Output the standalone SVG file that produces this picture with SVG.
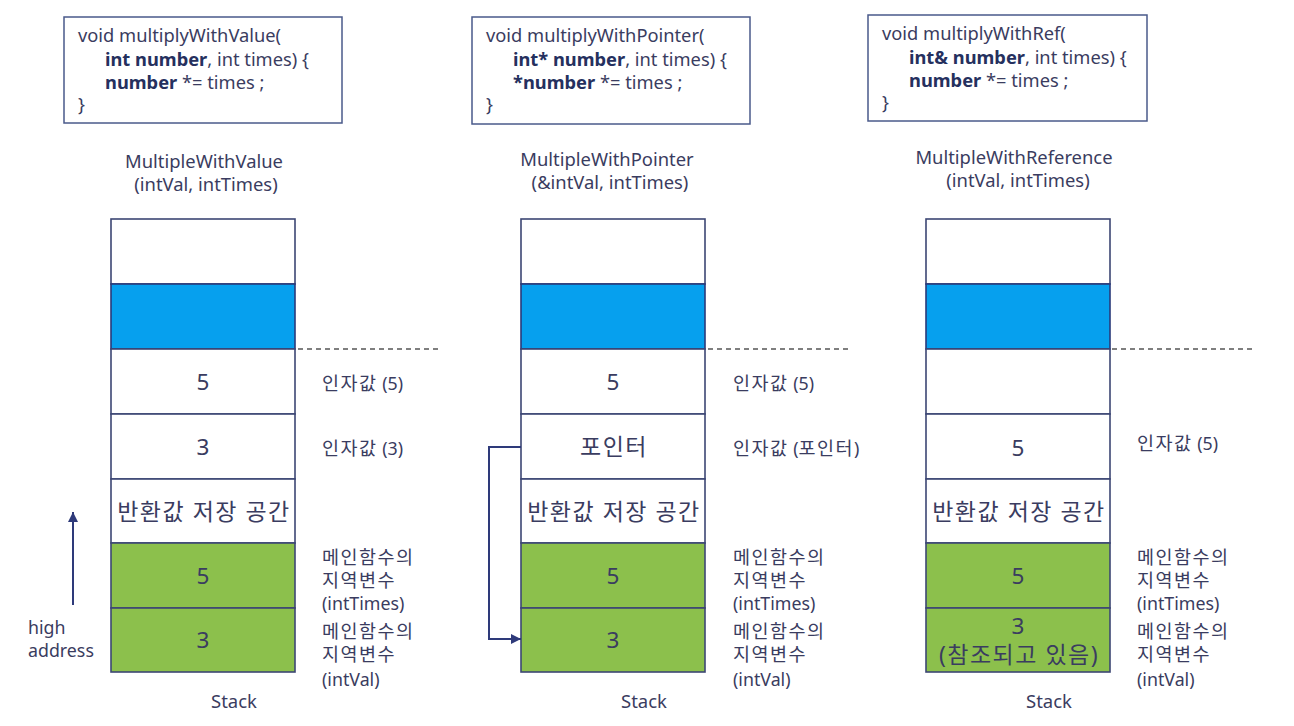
<svg xmlns="http://www.w3.org/2000/svg" width="1294" height="726" viewBox="0 0 1294 726">
<defs>
<style>
.t{font-family:"Noto Sans","Noto Sans CJK KR",sans-serif;fill:#3a3c60;}
.code{font-size:18.3px;}
.b{font-weight:bold;fill:#25305e;}
.title{font-size:18.4px;text-anchor:middle;}
.cell{font-size:22.5px;text-anchor:middle;}
.kc{font-size:23px;letter-spacing:1.5px;}
.lbl{font-size:17.8px;}
.st{font-size:18.5px;text-anchor:middle;}
.k{font-size:18.5px;letter-spacing:1.5px;}
.box{fill:#ffffff;stroke:#4a5a8a;stroke-width:1.5;}
.w{fill:#ffffff;stroke:#3c4674;stroke-width:1.6;}
.bl{fill:#06a0ee;stroke:#2a3a7a;stroke-width:1.6;}
.g{fill:#8cc04c;stroke:#3c4674;stroke-width:1.6;}
.dash{stroke:#555;stroke-width:1.3;stroke-dasharray:5 4;fill:none;}
.conn{stroke:#2e3a7a;stroke-width:2;fill:none;}
</style>
<marker id="ah" viewBox="0 0 10 10" refX="10" refY="5" markerWidth="5" markerHeight="5" orient="auto" markerUnits="strokeWidth">
<path d="M0,0 L10,5 L0,10 z" fill="#2e3a7a"/>
</marker>
</defs>
<rect width="1294" height="726" fill="#ffffff"/>

<g id="code1">
<rect class="box" x="64" y="17" width="278" height="106"/>
<text class="t code" x="78" y="42">void multiplyWithValue(</text>
<text class="t code" x="105" y="66"><tspan class="b">int number</tspan>, int times) {</text>
<text class="t code" x="105" y="89"><tspan class="b">number</tspan> *= times ;</text>
<text class="t code" x="78" y="111">}</text>
</g>
<g id="code2">
<rect class="box" x="472" y="17" width="278" height="107"/>
<text class="t code" x="486" y="42">void multiplyWithPointer(</text>
<text class="t code" x="513" y="66"><tspan class="b">int* number</tspan>, int times) {</text>
<text class="t code" x="513" y="89"><tspan class="b">*number</tspan> *= times ;</text>
<text class="t code" x="486" y="111">}</text>
</g>
<g id="code3">
<rect class="box" x="868" y="15" width="279" height="106"/>
<text class="t code" x="882" y="40">void multiplyWithRef(</text>
<text class="t code" x="909" y="64"><tspan class="b">int&amp; number</tspan>, int times) {</text>
<text class="t code" x="909" y="87"><tspan class="b">number</tspan> *= times ;</text>
<text class="t code" x="882" y="109">}</text>
</g>

<g id="title1">
<text class="t title" x="204" y="168">MultipleWithValue</text>
<text class="t title" x="206" y="191">(intVal, intTimes)</text>
</g>
<g id="title2">
<text class="t title" x="607" y="166">MultipleWithPointer</text>
<text class="t title" x="610" y="189">(&amp;intVal, intTimes)</text>
</g>
<g id="title3">
<text class="t title" x="1014" y="164">MultipleWithReference</text>
<text class="t title" x="1018" y="187">(intVal, intTimes)</text>
</g>

<g id="stack1">
<rect class="w" x="111" y="219" width="184" height="65"/>
<rect class="bl" x="111" y="284" width="184" height="65"/>
<rect class="w" x="111" y="349" width="184" height="65"/>
<rect class="w" x="111" y="414" width="184" height="65"/>
<rect class="w" x="111" y="479" width="184" height="64"/>
<rect class="g" x="111" y="543" width="184" height="65"/>
<rect class="g" x="111" y="608" width="184" height="64"/>
<text class="t cell" x="203" y="390">5</text>
<text class="t cell" x="203" y="455">3</text>
<text class="t cell kc" x="204" y="520">반환값 저장 공간</text>
<text class="t cell" x="203" y="584">5</text>
<text class="t cell" x="203" y="648">3</text>
<line class="dash" x1="298" y1="349" x2="440" y2="349"/>
<text class="t lbl" x="322" y="390"><tspan class="k">인자값</tspan> (5)</text>
<text class="t lbl" x="322" y="455"><tspan class="k">인자값</tspan> (3)</text>
<text class="t k" x="322" y="564">메인함수의</text>
<text class="t k" x="322" y="587">지역변수</text>
<text class="t lbl" x="322" y="610">(intTimes)</text>
<text class="t k" x="322" y="638">메인함수의</text>
<text class="t k" x="322" y="661">지역변수</text>
<text class="t lbl" x="322" y="686">(intVal)</text>
<text class="t st" x="234" y="708">Stack</text>
</g>

<g id="stack2">
<rect class="w" x="521" y="219" width="184" height="65"/>
<rect class="bl" x="521" y="284" width="184" height="65"/>
<rect class="w" x="521" y="349" width="184" height="65"/>
<rect class="w" x="521" y="414" width="184" height="65"/>
<rect class="w" x="521" y="479" width="184" height="64"/>
<rect class="g" x="521" y="543" width="184" height="65"/>
<rect class="g" x="521" y="608" width="184" height="64"/>
<text class="t cell" x="613" y="390">5</text>
<text class="t cell kc" x="614" y="455">포인터</text>
<text class="t cell kc" x="614" y="520">반환값 저장 공간</text>
<text class="t cell" x="613" y="584">5</text>
<text class="t cell" x="613" y="648">3</text>
<line class="dash" x1="708" y1="349" x2="850" y2="349"/>
<text class="t lbl" x="733" y="390"><tspan class="k">인자값</tspan> (5)</text>
<text class="t lbl" x="733" y="455"><tspan class="k">인자값</tspan> (<tspan class="k">포인터</tspan>)</text>
<text class="t k" x="733" y="564">메인함수의</text>
<text class="t k" x="733" y="587">지역변수</text>
<text class="t lbl" x="733" y="610">(intTimes)</text>
<text class="t k" x="733" y="638">메인함수의</text>
<text class="t k" x="733" y="661">지역변수</text>
<text class="t lbl" x="733" y="686">(intVal)</text>
<text class="t st" x="644" y="708">Stack</text>
</g>

<g id="stack3">
<rect class="w" x="926" y="219" width="184" height="65"/>
<rect class="bl" x="926" y="284" width="184" height="65"/>
<rect class="w" x="926" y="349" width="184" height="65"/>
<rect class="w" x="926" y="414" width="184" height="65"/>
<rect class="w" x="926" y="479" width="184" height="64"/>
<rect class="g" x="926" y="543" width="184" height="65"/>
<rect class="g" x="926" y="608" width="184" height="64"/>
<text class="t cell" x="1018" y="456">5</text>
<text class="t cell kc" x="1019" y="520">반환값 저장 공간</text>
<text class="t cell" x="1018" y="584">5</text>
<text class="t cell" x="1018" y="634">3</text>
<text class="t cell kc" x="1019" y="663">(참조되고 있음)</text>
<line class="dash" x1="1112" y1="349" x2="1253" y2="349"/>
<text class="t lbl" x="1137" y="450"><tspan class="k">인자값</tspan> (5)</text>
<text class="t k" x="1137" y="564">메인함수의</text>
<text class="t k" x="1137" y="587">지역변수</text>
<text class="t lbl" x="1137" y="610">(intTimes)</text>
<text class="t k" x="1137" y="638">메인함수의</text>
<text class="t k" x="1137" y="661">지역변수</text>
<text class="t lbl" x="1137" y="686">(intVal)</text>
<text class="t st" x="1049" y="708">Stack</text>
</g>

<g id="address">
<text class="t lbl" x="28" y="634">high</text>
<text class="t lbl" x="28" y="657">address</text>
</g>

<g id="connectors">
<line class="conn" x1="73" y1="605" x2="73" y2="512" marker-end="url(#ah)"/>
<polyline class="conn" points="521,447 489,447 489,639 521,639" marker-end="url(#ah)"/>
</g>
</svg>
